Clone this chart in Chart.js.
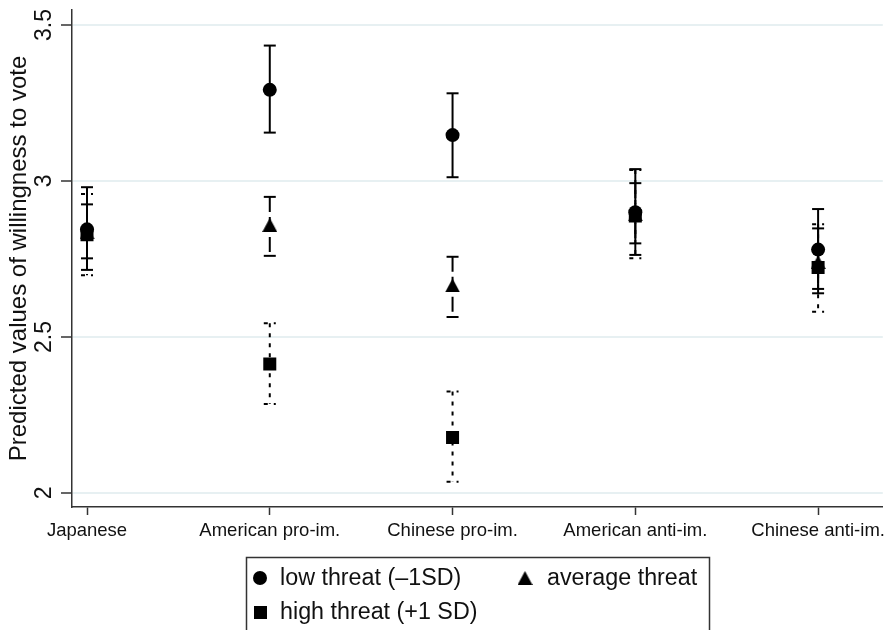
<!DOCTYPE html>
<html>
<head>
<meta charset="utf-8">
<script src="https://cdn.jsdelivr.net/npm/chart.js@4.4.1/dist/chart.umd.min.js"></script>
<style>
  html, body { margin: 0; padding: 0; background: #fff; }
  #wrap { width: 892px; height: 630px; position: relative; overflow: hidden; }
</style>
</head>
<body>
<div id="wrap"><canvas id="chart" width="892" height="630"></canvas></div>
<script>
const categories = ['Japanese', 'American pro-im.', 'Chinese pro-im.', 'American anti-im.', 'Chinese anti-im.'];

const lowMean  = [2.845, 3.292, 3.147, 2.900, 2.780];
const lowLower = [2.715, 3.155, 3.012, 2.763, 2.640];
const lowUpper = [2.980, 3.434, 3.281, 3.038, 2.910];

const avgMean  = [2.835, 2.859, 2.665, 2.893, 2.740];
const avgLower = [2.752, 2.760, 2.564, 2.800, 2.654];
const avgUpper = [2.925, 2.949, 2.757, 2.993, 2.848];

const highMean  = [2.828, 2.413, 2.178, 2.888, 2.723];
const highLower = [2.698, 2.285, 2.036, 2.752, 2.581];
const highUpper = [2.958, 2.544, 2.325, 3.035, 2.861];

const yTicks = [2, 2.5, 3, 3.5];
const seriesLabels = ['low threat (\u20131SD)', 'average threat', 'high threat (+1 SD)'];
const yTitle = 'Predicted values of willingness to vote';

const FONT = '"Liberation Sans", Arial, Helvetica, sans-serif';

// triangle marker centred on its bounding box (like Stata draws it)
const makeTriangle = (w, h) => {
    const c = document.createElement('canvas');
    c.width = w; c.height = h;
    const g = c.getContext('2d');
    g.fillStyle = '#000';
    g.beginPath();
    g.moveTo(w / 2, 0);
    g.lineTo(w, h);
    g.lineTo(0, h);
    g.closePath();
    g.fill();
    return c;
};
const triangleImg = makeTriangle(15, 14);

const series = [
    { mean: lowMean, lo: lowLower, hi: lowUpper, dash: [] },
    { mean: avgMean, lo: avgLower, hi: avgUpper, dash: [15, 5] },
    { mean: highMean, lo: highLower, hi: highUpper, dash: [4, 6] }
];

const errorBars = {
    id: 'errorBars',
    beforeDatasetsDraw(chart) {
        const { ctx, scales: { x, y } } = chart;
        ctx.save();
        ctx.strokeStyle = '#000';
        ctx.lineWidth = 2;
        series.forEach(s => {
            ctx.setLineDash(s.dash);
            s.mean.forEach((m, i) => {
                const px = x.getPixelForValue(i);
                const top = y.getPixelForValue(s.hi[i]);
                const bot = y.getPixelForValue(s.lo[i]);
                ctx.beginPath();
                ctx.moveTo(px, top);
                ctx.lineTo(px, bot);
                ctx.stroke();
                ctx.beginPath();
                ctx.moveTo(px - 6, top);
                ctx.lineTo(px + 6, top);
                ctx.stroke();
                ctx.beginPath();
                ctx.moveTo(px - 6, bot);
                ctx.lineTo(px + 6, bot);
                ctx.stroke();
            });
        });
        ctx.restore();
    }
};

const yLabels = {
    id: 'yLabels',
    afterDraw(chart) {
        const { ctx, scales: { y }, chartArea } = chart;
        ctx.save();
        ctx.fillStyle = '#111';
        ctx.textAlign = 'center';
        ctx.textBaseline = 'middle';
        ctx.font = '23px ' + FONT;
        yTicks.forEach(v => {
            ctx.save();
            ctx.translate(45, y.getPixelForValue(v));
            ctx.rotate(-Math.PI / 2);
            ctx.fillText(String(v), 0, 0);
            ctx.restore();
        });
        ctx.font = '24px ' + FONT;
        ctx.translate(19, (chartArea.top + chartArea.bottom) / 2);
        ctx.rotate(-Math.PI / 2);
        ctx.fillText(yTitle, 0, 0);
        ctx.restore();
    }
};

const boxLegend = {
    id: 'boxLegend',
    afterDraw(chart) {
        const ctx = chart.ctx;
        ctx.save();
        ctx.strokeStyle = '#333';
        ctx.lineWidth = 1.5;
        ctx.strokeRect(246.5, 557.5, 463, 90);
        ctx.fillStyle = '#000';
        // circle
        ctx.beginPath();
        ctx.arc(260, 578, 7, 0, Math.PI * 2);
        ctx.fill();
        // triangle
        ctx.drawImage(triangleImg, 525 - 7.5, 578 - 7);
        // square
        ctx.fillRect(254, 606, 13, 13);
        ctx.fillStyle = '#111';
        ctx.font = '23.3px ' + FONT;
        ctx.textBaseline = 'middle';
        ctx.textAlign = 'left';
        ctx.fillText(seriesLabels[0], 280, 579);
        ctx.fillText(seriesLabels[1], 547, 579);
        ctx.fillText(seriesLabels[2], 280, 613);
        ctx.restore();
    }
};

const toPoints = arr => arr.map((v, i) => ({ x: i, y: v }));

new Chart(document.getElementById('chart').getContext('2d'), {
    type: 'scatter',
    data: {
        datasets: [
            { label: seriesLabels[0], data: toPoints(lowMean), pointStyle: 'circle', pointRadius: 7, backgroundColor: '#000', borderWidth: 0 },
            { label: seriesLabels[1], data: toPoints(avgMean), pointStyle: triangleImg, pointRadius: 8, backgroundColor: '#000', borderWidth: 0 },
            { label: seriesLabels[2], data: toPoints(highMean), pointStyle: 'rect', pointRadius: 9.2, backgroundColor: '#000', borderWidth: 0 }
        ]
    },
    options: {
        responsive: false,
        animation: false,
        layout: { padding: { top: 10, right: 0, bottom: 85, left: 0 } },
        plugins: { legend: { display: false }, tooltip: { enabled: false } },
        scales: {
            x: {
                type: 'linear',
                min: -0.0821,
                max: 4.354,
                afterBuildTicks: scale => { scale.ticks = categories.map((c, i) => ({ value: i })); },
                afterFit: scale => { scale.height = 38; },
                ticks: {
                    callback: v => categories[v],
                    color: '#111',
                    font: { family: FONT, size: 18.5 },
                    padding: 5,
                    maxRotation: 0
                },
                grid: { drawOnChartArea: false, drawTicks: true, tickLength: 8, tickColor: '#333', tickWidth: 1.5 },
                border: { color: '#333', width: 1.5 }
            },
            y: {
                min: 1.955,
                max: 3.548,
                afterBuildTicks: scale => { scale.ticks = yTicks.map(v => ({ value: v })); },
                afterFit: scale => { scale.width = 72; },
                ticks: { display: false },
                grid: { color: '#e7f0f2', lineWidth: 2, drawTicks: true, tickLength: 11, tickColor: '#333', tickWidth: 1.5 },
                border: { color: '#333', width: 1.5 }
            }
        }
    },
    plugins: [errorBars, yLabels, boxLegend]
});
</script>
</body>
</html>
